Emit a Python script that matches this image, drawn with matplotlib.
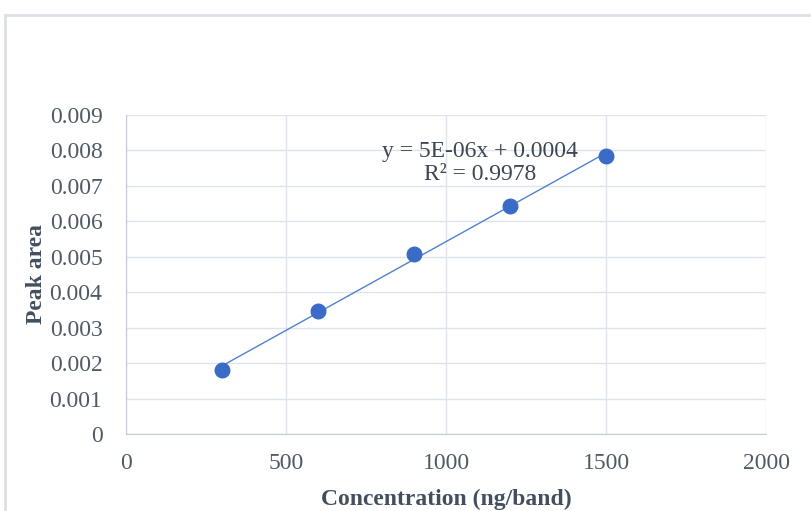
import numpy as np
import matplotlib
matplotlib.use("Agg")
import matplotlib.pyplot as plt
from matplotlib.patches import Rectangle

concentration = [300, 600, 900, 1200, 1500]
peak_area = [0.00181, 0.00347, 0.00508, 0.00643, 0.00784]
x_ticks = [0, 500, 1000, 1500, 2000]
y_ticks = [0, 0.001, 0.002, 0.003, 0.004, 0.005, 0.006, 0.007, 0.008, 0.009]
y_tick_labels = ["0", "0.001", "0.002", "0.003", "0.004", "0.005",
                 "0.006", "0.007", "0.008", "0.009"]
equation = "y = 5E-06x + 0.0004"
r_squared = "R² = 0.9978"

plt.rcParams["font.family"] = ["Liberation Serif", "DejaVu Serif"]

fig = plt.figure(figsize=(8.11, 5.11), dpi=100)
fig.patches.append(Rectangle((5 / 811, -0.1), 1.0, 1 - 15 / 511 + 0.1,
                             transform=fig.transFigure, fill=False,
                             edgecolor="#dde1e7", linewidth=2))

ax = fig.add_axes([126 / 811, 1 - 434 / 511, 640 / 811, 319 / 511])

slope, intercept = np.polyfit(concentration, peak_area, 1)
fit_x = np.array([concentration[0], concentration[-1]])
ax.plot(fit_x, slope * fit_x + intercept, color="#4f81d1", linewidth=1, zorder=2)
ax.scatter(concentration, peak_area, s=110, color="#3a6cc7", zorder=3)

ax.set_xlim(0, 2000)
ax.set_ylim(0, 0.009)
ax.set_xticks(x_ticks)
ax.set_yticks(y_ticks)
ax.set_yticklabels(y_tick_labels)
ax.grid(True, color="#dfe3ea", linewidth=1)
ax.set_axisbelow(True)
for side in ["top", "right"]:
    ax.spines[side].set_visible(False)
for side in ["left", "bottom"]:
    ax.spines[side].set_color("#c5cad3")
ax.tick_params(length=0, labelsize=17, labelcolor="#505a66")
ax.tick_params(axis="y", pad=17)
ax.tick_params(axis="x", pad=14)

ax.set_xlabel("Concentration (ng/band)", fontsize=17, fontweight="bold",
              color="#434f5e", labelpad=10)
ax.set_ylabel("Peak area", fontsize=17, fontweight="bold",
              color="#434f5e", labelpad=2)

ax.text(1106, 0.00796, equation, fontsize=17, color="#3d4652",
        ha="center", va="center")
ax.text(1106, 0.00731, r_squared, fontsize=17, color="#3d4652",
        ha="center", va="center")

fig.savefig("out.png", dpi=100)
